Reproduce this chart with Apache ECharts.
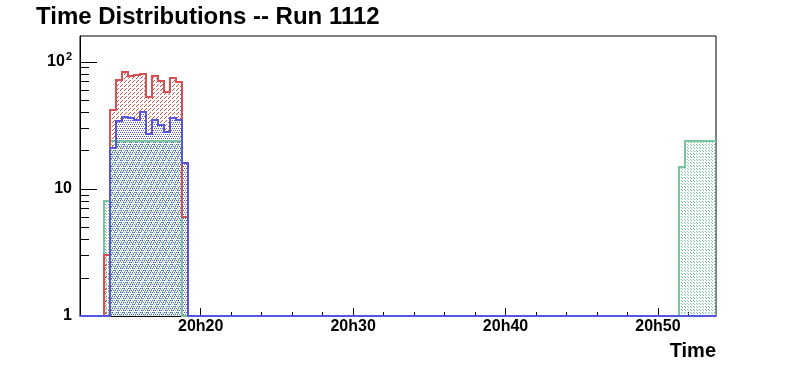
<!DOCTYPE html>
<html>
<head>
<meta charset="utf-8">
<script src="https://cdn.jsdelivr.net/npm/echarts@6/dist/echarts.min.js"></script>
<style>
html,body{margin:0;padding:0;background:#fff;}
#chart{width:796px;height:372px;}
</style>
</head>
<body>
<div id="chart"></div>
<script>
// ---- data (time in minutes after 20h00) ----
const titleText = 'Time Distributions -- Run 1112';
const xAxisName = 'Time';
const xMin = 12.08, xMax = 53.81;
const binStart = 13.622;     // left edge of bin 0
const binWidth = 0.3972;     // minutes per bin
const nBins = 102;
const majorTicks = [20, 30, 40, 50];
const majorLabels = ['20h20', '20h30', '20h40', '20h50'];
const minorTicks = [14, 16, 18, 22, 24, 26, 28, 32, 34, 36, 38, 42, 44, 46, 48, 52];
const yMin = 1, yMax = 160;
const yMajor = [1, 10, 100];
const yMinor = [2, 3, 4, 5, 6, 7, 8, 9, 20, 30, 40, 50, 60, 70, 80, 90];

// counts per bin, starting at bin index given by *Start
const redStart = 0;
const redCounts = [3, 42, 72, 84, 78, 79, 81, 53, 78, 71, 58, 75, 70, 6];
const blueStart = 0;
const blueCounts = [0, 21, 34, 37, 36, 35, 40, 27, 35, 32, 28, 36, 35, 16];
const greenStartA = 0;
const greenCountsA = [8, 24, 24, 24, 24, 24, 24, 24, 24, 24, 24, 24, 24, 0];
const greenStartB = 95;
const greenCountsB = [15, 24, 24, 24, 24, 24, 24];

// ---- build step-histogram points (limited to the axis range) ----
function fullBins(parts) {
  const arr = new Array(nBins).fill(0);
  parts.forEach(([start, counts]) => counts.forEach((c, i) => { arr[start + i] = c; }));
  return arr;
}
function stepPoints(bins) {
  const pts = [[xMin, yMin]];
  let last = yMin;
  bins.forEach((c, i) => {
    const x = binStart + i * binWidth;
    if (x < xMax) { last = Math.max(c, yMin); pts.push([x, last]); }
  });
  pts.push([xMax, last]);
  return pts;
}

// ---- hatch patterns ----
function makePattern(w, h, color, pixels, bg) {
  const c = document.createElement('canvas');
  c.width = w; c.height = h;
  const ctx = c.getContext('2d');
  if (bg) { ctx.fillStyle = bg; ctx.fillRect(0, 0, w, h); }
  ctx.fillStyle = color;
  pixels.forEach(([x, y]) => ctx.fillRect(x, y, 1, 1));
  return { image: c, repeat: 'repeat' };
}
const RED = '#d85050', BLUE = '#5555dd', GREEN = '#78c49e';

// 0: green, 1: red, 2: blue
const hists = [
  { color: GREEN, pattern: makePattern(3, 3, GREEN, [[0, 0], [1, 1]]),
    pts: stepPoints(fullBins([[greenStartA, greenCountsA], [greenStartB, greenCountsB]])) },
  { color: RED, pattern: makePattern(4, 4, RED, [[2, 0], [1, 1], [0, 2]]),
    pts: stepPoints(fullBins([[redStart, redCounts]])) },
  { color: BLUE, pattern: makePattern(4, 4, BLUE, [[0, 0], [2, 0], [1, 2], [3, 2]], '#ffffff'),
    pts: stepPoints(fullBins([[blueStart, blueCounts]])) }
];
// drawing order: [histIndex, kind] kind 0 = fill, 1 = outline
const drawOrder = [[1, 0], [2, 0], [0, 0], [0, 1], [1, 1], [2, 1]];

const chart = echarts.init(document.getElementById('chart'), null, { renderer: 'canvas' });
const FONT = 'Liberation Sans';

function renderHist(params, api) {
  const h = hists[api.value(2)];
  const kind = api.value(3);
  const px = h.pts.map(p => {
    const c = api.coord(p);
    return [Math.round(c[0]), Math.round(c[1])];
  });
  const line = [px[0]];
  for (let i = 1; i < px.length; i++) {
    line.push([px[i][0], px[i - 1][1]]);
    line.push(px[i]);
  }
  if (kind === 0) {
    const base = Math.round(api.coord([xMin, yMin])[1]);
    const area = line.concat([[px[px.length - 1][0], base], [px[0][0], base]]);
    return { type: 'polygon', shape: { points: area }, style: { fill: h.pattern, stroke: null }, silent: true };
  }
  return { type: 'polyline', shape: { points: line },
    style: { fill: null, stroke: h.color, lineWidth: 2, lineJoin: 'miter', lineCap: 'butt' }, silent: true };
}

chart.setOption({
  animation: false,
  backgroundColor: '#fff',
  title: [
    { text: titleText, left: 36, top: 5, padding: 0,
      textStyle: { fontFamily: FONT, fontWeight: 'bold', fontSize: 24, color: '#000' } },
    { text: xAxisName, right: 80, top: 341, padding: 0,
      textStyle: { fontFamily: FONT, fontWeight: 'bold', fontSize: 20, color: '#000' } }
  ],
  grid: { left: 80, right: 80, top: 36, bottom: 56, show: true, borderColor: '#000', borderWidth: 1, backgroundColor: 'transparent' },
  xAxis: [
    { type: 'value', min: xMin, max: xMax, position: 'bottom',
      axisLine: { show: true, lineStyle: { color: '#000', width: 1 } },
      splitLine: { show: false },
      axisTick: { show: true, inside: true, length: 8, customValues: majorTicks, lineStyle: { color: '#000' } },
      axisLabel: { show: true, customValues: majorTicks, margin: 3,
        fontFamily: FONT, fontWeight: 'bold', fontSize: 16, color: '#000',
        formatter: v => majorLabels[majorTicks.indexOf(Math.round(v))] || '' } },
    { type: 'value', min: xMin, max: xMax, position: 'bottom',
      axisLine: { show: false }, splitLine: { show: false },
      axisTick: { show: true, inside: true, length: 4, customValues: minorTicks, lineStyle: { color: '#000' } },
      axisLabel: { show: false } }
  ],
  yAxis: [
    { type: 'log', logBase: 10, min: yMin, max: yMax, position: 'left',
      axisLine: { show: true, lineStyle: { color: '#000', width: 1 } },
      splitLine: { show: false },
      axisTick: { show: true, inside: true, length: 17, customValues: yMajor, lineStyle: { color: '#000' } },
      axisLabel: { show: true, customValues: yMajor, margin: 8,
        fontFamily: FONT, fontWeight: 'bold', fontSize: 16, color: '#000',
        formatter: v => {
          const r = Math.round(v);
          if (r === 100) return '{b|10}{s|2}';
          return '{b|' + r + '}';
        },
        rich: {
          b: { fontFamily: FONT, fontWeight: 'bold', fontSize: 16, color: '#000' },
          s: { fontFamily: FONT, fontWeight: 'bold', fontSize: 11, color: '#000', padding: [0, 0, 9, 1] }
        } } },
    { type: 'log', logBase: 10, min: yMin, max: yMax, position: 'left',
      axisLine: { show: false }, splitLine: { show: false },
      axisTick: { show: true, inside: true, length: 9, customValues: yMinor, lineStyle: { color: '#000' } },
      axisLabel: { show: false } }
  ],
  series: [{
    type: 'custom', coordinateSystem: 'cartesian2d', xAxisIndex: 0, yAxisIndex: 0,
    clip: false, silent: true,
    encode: { x: 0, y: 1 },
    data: drawOrder.map(([hi, kind]) => [xMin, yMin, hi, kind]),
    renderItem: renderHist
  }]
});
</script>
</body>
</html>
